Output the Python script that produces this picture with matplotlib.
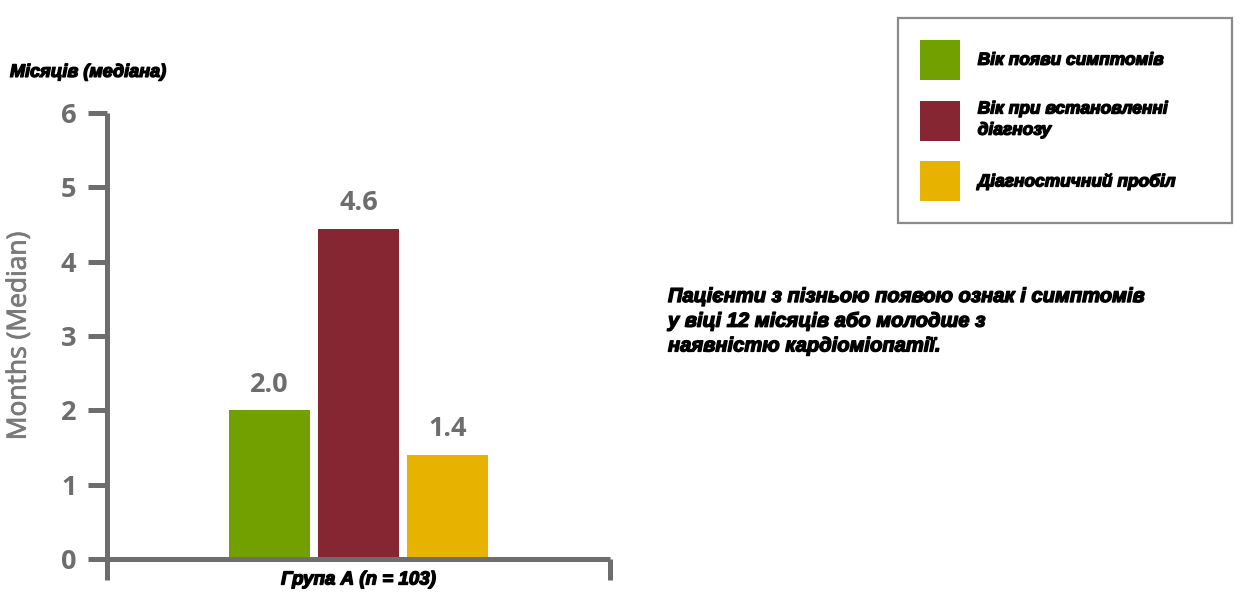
import matplotlib.pyplot as plt
import matplotlib.patheffects as pe
from matplotlib.patches import Patch

# дані з графіка
categories = ['Вік появи симптомів', 'Вік при встановленні\nдіагнозу', 'Діагностичний пробіл']
bar_heights = [2.0, 4.44, 1.4]
value_labels = ['2.0', '4.6', '1.4']
colors = ['#71a000', '#862633', '#e8b200']
y_ticks = [0, 1, 2, 3, 4, 5, 6]
group_label = 'Група А (n = 103)'
note = ('Пацієнти з пізньою появою ознак і симптомів\n'
        'у віці 12 місяців або молодше з\n'
        'наявністю кардіоміопатії.')

grey = '#6d6d6d'
bold_it = dict(family='Liberation Sans', weight='bold', style='italic', color='black')
thick = [pe.withStroke(linewidth=1.0, foreground='black')]

fig = plt.figure(figsize=(12.56, 6.06), dpi=100)
ax = fig.add_axes([107 / 1256, 1 - 559 / 606, 503 / 1256, 446 / 606])

x = [0, 1, 2]
bars = ax.bar(x, bar_heights, width=0.91, color=colors)
for b, lab in zip(bars, value_labels):
    ax.annotate(lab, (b.get_x() + b.get_width() / 2, b.get_height()),
                xytext=(0, 9), textcoords='offset points', ha='center', va='bottom',
                fontsize=19.5, fontweight='bold', color=grey, family='Open Sans')

ax.set_xlim(-1.83, 3.83)
ax.set_ylim(0, 6)
ax.set_yticks(y_ticks)
ax.set_yticklabels([str(t) for t in y_ticks], fontsize=19.5, fontweight='bold',
                   color=grey, family='Open Sans')
ax.set_xticks([-1.83, 3.83])
ax.set_xticklabels(['', ''])
ax.tick_params(axis='y', length=14, width=3.6, color=grey, pad=8)
ax.tick_params(axis='x', length=15, width=3.6, color=grey)
for s in ['top', 'right']:
    ax.spines[s].set_visible(False)
for s in ['left', 'bottom']:
    ax.spines[s].set_linewidth(3.6)
    ax.spines[s].set_color(grey)
    ax.spines[s].set_capstyle('butt')

ylab = ax.set_ylabel('Months (Median)', fontsize=19, color='#7a7a7a', family='Open Sans',
                     labelpad=21)
ylab.set_path_effects([pe.withStroke(linewidth=0.6, foreground='#7a7a7a')])

ax.text(0.5, -0.047, group_label, transform=ax.transAxes, ha='center', va='center',
        fontsize=13.5, path_effects=thick, **bold_it)

fig.text(10 / 1256, 1 - 72 / 606, 'Місяців (медіана)', ha='left', va='center',
         fontsize=13, path_effects=thick, **bold_it)

fig.text(668 / 1256, 1 - 287 / 606, note, ha='left', va='top', fontsize=14.5,
         linespacing=1.38, path_effects=thick, **bold_it)

handles = [Patch(facecolor=c, edgecolor='none') for c in colors]
leg = fig.legend(handles, categories, loc='upper left',
                 bbox_to_anchor=(898 / 1256, 1 - 18 / 606, 334 / 1256, 0.0),
                 mode='expand', fontsize=12.5, handlelength=2.3, handleheight=3.17,
                 handletextpad=1.04, labelspacing=1.2, borderpad=1.25,
                 fancybox=False, borderaxespad=0)
leg.get_frame().set_edgecolor(grey)
leg.get_frame().set_linewidth(1.6)
for t in leg.get_texts():
    t.set_family('Liberation Sans')
    t.set_weight('bold')
    t.set_style('italic')
    t.set_linespacing(1.45)
    t.set_path_effects(thick)

fig.savefig('out.png', dpi=100)
